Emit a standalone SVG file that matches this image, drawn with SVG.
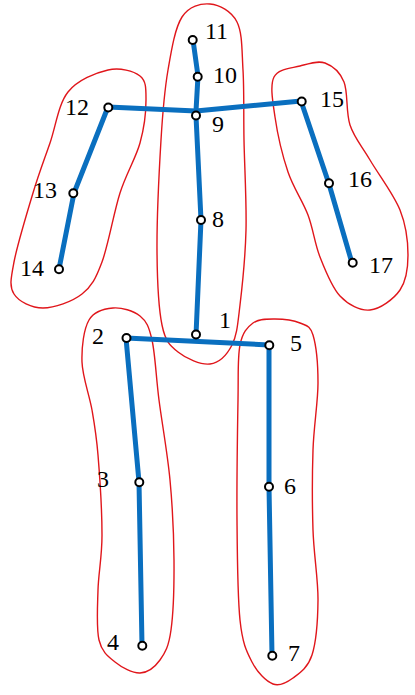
<svg xmlns="http://www.w3.org/2000/svg" width="415" height="695" viewBox="0 0 415 695">
<style>
.blob{fill:none;stroke:#E0161B;stroke-width:1.4}
.bone{fill:none;stroke:#0A6FBF;stroke-width:5;stroke-linejoin:round;stroke-linecap:butt}
.joint{fill:#fff;stroke:#000;stroke-width:2}
.lbl{font-family:"Liberation Serif","Times New Roman",serif;font-size:24px;fill:#000}
</style>
<rect width="415" height="695" fill="#fff"/>
<g id="groups">
<path id="torso-group" class="blob" d="M210,4 C219.2,4.8 231.5,11 237,22 C242.5,33 241.8,50.3 243,70 C244.2,89.7 243.5,113.3 244,140 C244.5,166.7 246.7,202.5 246,230 C245.3,257.5 242.3,285.8 240,305 C237.7,324.2 237,335.2 232,345 C227,354.8 219,362.8 210,364 C201,365.2 186,358.5 178,352 C170,345.5 165.5,342 162,325 C158.5,308 157.2,280.8 157,250 C156.8,219.2 159.2,170 161,140 C162.8,110 164.5,90.5 168,70 C171.5,49.5 175,28 182,17 C189,6 200.8,3.2 210,4 Z"/>
<path id="left-arm-group" class="blob" d="M108,70 C120,67.3 133.7,71 140,76 C146.3,81 146,88.8 146,100 C146,111.2 144.3,127.5 140,143 C135.7,158.5 126.3,173.2 120,193 C113.7,212.8 108.3,245.2 102,262 C95.7,278.8 91.8,286.3 82,294 C72.2,301.7 54.3,308 43,308 C31.7,308 18.8,301.7 14,294 C9.2,286.3 10.8,278.8 14,262 C17.2,245.2 27,212.8 33,193 C39,173.2 44.2,159.8 50,143 C55.8,126.2 58.3,104.2 68,92 C77.7,79.8 96,72.7 108,70 Z"/>
<path id="right-arm-group" class="blob" d="M274,77 C278.2,68.5 291.5,68.3 300,66 C308.5,63.7 317.7,60.3 325,63 C332.3,65.7 339.8,71.7 344,82 C348.2,92.3 345.7,112 350,125 C354.3,138 361.7,145.8 370,160 C378.3,174.2 393.7,194.2 400,210 C406.3,225.8 408,241.7 408,255 C408,268.3 406.3,280.8 400,290 C393.7,299.2 380,309 370,310 C360,311 348.3,304.8 340,296 C331.7,287.2 325.3,270.5 320,257 C314.7,243.5 313.3,229.2 308,215 C302.7,200.8 293.5,188.3 288,172 C282.5,155.7 277.3,132.8 275,117 C272.7,101.2 269.8,85.5 274,77 Z"/>
<path id="left-leg-group" class="blob" d="M113,308 C121.5,307.3 133.5,310.7 140,316 C146.5,321.3 148.8,326 152,340 C155.2,354 156,376.7 159,400 C162,423.3 167.5,453.3 170,480 C172.5,506.7 173.8,535 174,560 C174.2,585 173.3,613.3 171,630 C168.7,646.7 165.2,652.8 160,660 C154.8,667.2 147.5,672.7 140,673 C132.5,673.3 121.8,667.5 115,662 C108.2,656.5 101.8,652 99,640 C96.2,628 97.5,607.5 98,590 C98.5,572.5 102,557.5 102,535 C102,512.5 99.7,475.8 98,455 C96.3,434.2 94.7,425.5 92,410 C89.3,394.5 82.5,377 82,362 C81.5,347 83.8,329 89,320 C94.2,311 104.5,308.7 113,308 Z"/>
<path id="right-leg-group" class="blob" d="M253,323 C258.8,318.7 267.2,319 275,319 C282.8,319 293.7,320.3 300,323 C306.3,325.7 310,325 313,335 C316,345 318,363.8 318,383 C318,402.2 313.8,425.5 313,450 C312.2,474.5 312.2,505 313,530 C313.8,555 318.2,579.2 318,600 C317.8,620.8 316.2,642 312,655 C307.8,668 299.5,673.2 293,678 C286.5,682.8 279.8,686.7 273,684 C266.2,681.3 257.5,672.7 252,662 C246.5,651.3 242.5,643.7 240,620 C237.5,596.3 237.3,556.7 237,520 C236.7,483.3 237.5,429.2 238,400 C238.5,370.8 237.5,357.8 240,345 C242.5,332.2 247.2,327.3 253,323 Z"/>
</g>
<g id="connectors">
<polyline class="bone" points="193,40 198,76 196,111 196,116 201,220 196,335 196,341"/>
<polyline class="bone" points="108,107 196,111 301,101"/>
<polyline class="bone" points="108,107 74,193 59,269"/>
<polyline class="bone" points="301,101 329,184 352,263"/>
<polyline class="bone" points="126,338 269,345"/>
<polyline class="bone" points="126,338 139,482 142,645"/>
<polyline class="bone" points="269,345 269,487 272,655"/>
</g>
<g id="node-1"><circle class="joint" cx="196" cy="334.5" r="4"/><text class="lbl" x="219" y="328">1</text></g>
<g id="node-2"><circle class="joint" cx="126.5" cy="338" r="4"/><text class="lbl" x="92" y="344">2</text></g>
<g id="node-3"><circle class="joint" cx="139.3" cy="482.3" r="4"/><text class="lbl" x="97" y="487">3</text></g>
<g id="node-4"><circle class="joint" cx="142.3" cy="645.7" r="4"/><text class="lbl" x="107" y="650">4</text></g>
<g id="node-5"><circle class="joint" cx="269.3" cy="345.3" r="4"/><text class="lbl" x="290" y="351">5</text></g>
<g id="node-6"><circle class="joint" cx="269" cy="486.7" r="4"/><text class="lbl" x="284" y="494">6</text></g>
<g id="node-7"><circle class="joint" cx="272.3" cy="655.7" r="4"/><text class="lbl" x="288" y="661">7</text></g>
<g id="node-8"><circle class="joint" cx="201" cy="220" r="4"/><text class="lbl" x="212" y="227">8</text></g>
<g id="node-9"><circle class="joint" cx="196" cy="115.5" r="4"/><text class="lbl" x="212" y="132">9</text></g>
<g id="node-10"><circle class="joint" cx="197.7" cy="76.7" r="4"/><text class="lbl" x="213" y="83">10</text></g>
<g id="node-11"><circle class="joint" cx="192.7" cy="40" r="4"/><text class="lbl" x="205" y="39">11</text></g>
<g id="node-12"><circle class="joint" cx="108.3" cy="107.5" r="4"/><text class="lbl" x="65" y="115">12</text></g>
<g id="node-13"><circle class="joint" cx="73.3" cy="193.3" r="4"/><text class="lbl" x="33" y="198">13</text></g>
<g id="node-14"><circle class="joint" cx="59" cy="269.3" r="4"/><text class="lbl" x="20" y="276">14</text></g>
<g id="node-15"><circle class="joint" cx="301.7" cy="101.5" r="4"/><text class="lbl" x="320" y="107">15</text></g>
<g id="node-16"><circle class="joint" cx="329" cy="183.3" r="4"/><text class="lbl" x="348" y="187">16</text></g>
<g id="node-17"><circle class="joint" cx="352.7" cy="262.7" r="4"/><text class="lbl" x="369" y="273">17</text></g>
</svg>
